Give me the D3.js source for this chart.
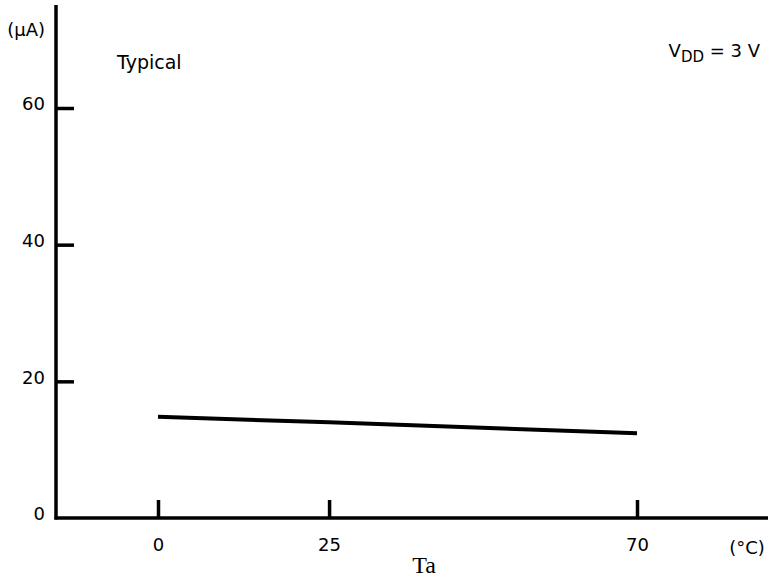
<!DOCTYPE html>
<html>
<head>
<meta charset="utf-8">
<script src="https://cdn.jsdelivr.net/npm/d3@7"></script>
<style>
  body { margin: 0; background: #fff; }
  text { font-family: "DejaVu Sans", sans-serif; fill: #000; }
</style>
</head>
<body>
<div id="chart"></div>
<script>
// data
var temps = [0, 25, 70];            // Ta (°C)
var currents = [14.8, 14.0, 12.4];  // supply current (µA)
var xTicks = [0, 25, 70];
var yTicks = [0, 20, 40, 60];

var width = 768, height = 580;
var originX = 56, originY = 518, axisTop = 5;

svg = d3.select("#chart").append("svg")
    .attr("width", width)
    .attr("height", height);

x_scale = d3.scaleLinear().domain([0, 70]).range([158, 637]);
y_scale = d3.scaleLinear().domain([0, 60]).range([originY, 108]);

// axes lines
svg.append("line")
    .attr("x1", originX).attr("x2", originX)
    .attr("y1", axisTop).attr("y2", originY + 1.5)
    .attr("stroke", "#000").attr("stroke-width", 3.5);
svg.append("line")
    .attr("x1", originX - 1.5).attr("x2", width)
    .attr("y1", originY).attr("y2", originY)
    .attr("stroke", "#000").attr("stroke-width", 3.5);

// y axis ticks
y_axis = d3.axisLeft(y_scale)
    .tickValues(yTicks)
    .tickSizeInner(-18)
    .tickSizeOuter(0)
    .tickPadding(11);
gy = svg.append("g")
    .attr("transform", "translate(" + originX + ",0)")
    .call(y_axis);
gy.select(".domain").remove();
gy.selectAll(".tick line").attr("stroke-width", 3.5)
    .filter(function(d) { return d === 0; }).remove();
gy.selectAll(".tick text")
    .attr("font-size", 18)
    .attr("font-family", "DejaVu Sans, sans-serif")
    .attr("dy", "0.1em");

// x axis ticks
x_axis = d3.axisBottom(x_scale)
    .tickValues(xTicks)
    .tickSizeInner(-18)
    .tickSizeOuter(0)
    .tickPadding(20);
gx = svg.append("g")
    .attr("transform", "translate(0," + originY + ")")
    .call(x_axis);
gx.select(".domain").remove();
gx.selectAll(".tick line").attr("stroke-width", 3.5);
gx.selectAll(".tick text")
    .attr("font-size", 18)
    .attr("font-family", "DejaVu Sans, sans-serif");

// data line
line = d3.line()
    .x(function(d, i) { return x_scale(temps[i]); })
    .y(function(d) { return y_scale(d); });
svg.append("path")
    .datum(currents)
    .attr("d", line)
    .attr("fill", "none")
    .attr("stroke", "#000")
    .attr("stroke-width", 4);

// labels
svg.append("text")
    .attr("x", 45).attr("y", 36)
    .attr("text-anchor", "end")
    .attr("font-size", 18)
    .text("(\u03bcA)");
svg.append("text")
    .attr("x", 117).attr("y", 69)
    .attr("font-size", 19)
    .text("Typical");
vdd = svg.append("text")
    .attr("x", 760).attr("y", 57)
    .attr("text-anchor", "end")
    .attr("font-size", 18);
vdd.append("tspan").text("V");
vdd.append("tspan").attr("dy", 5).attr("font-size", 15).text("DD");
vdd.append("tspan").attr("dy", -5).text(" = 3 V");
svg.append("text")
    .attr("x", 747).attr("y", 554)
    .attr("text-anchor", "middle")
    .attr("font-size", 18)
    .text("(\u00b0C)");
svg.append("text")
    .attr("x", 424).attr("y", 573)
    .attr("text-anchor", "middle")
    .style("font-family", "Liberation Serif, serif")
    .attr("font-size", 24)
    .text("Ta");
</script>
</body>
</html>
